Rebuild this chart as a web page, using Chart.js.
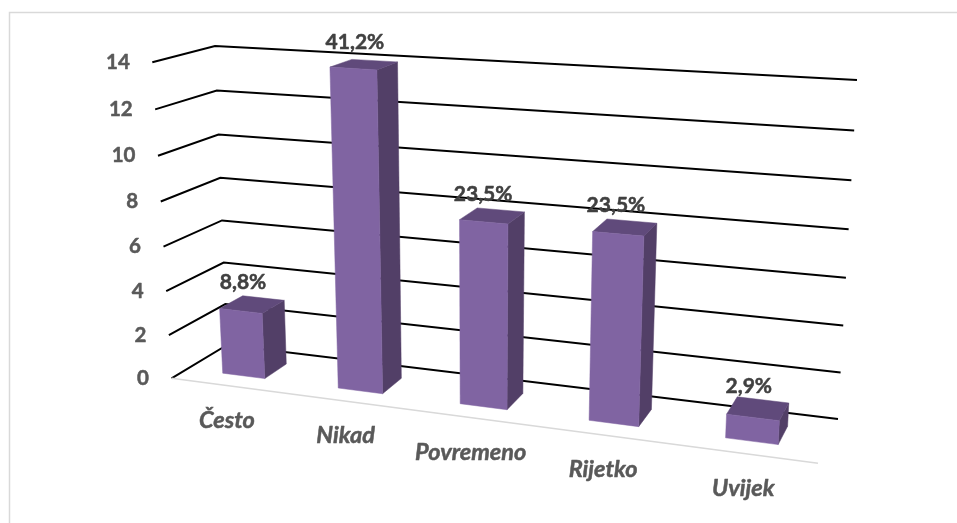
<!DOCTYPE html>
<html><head><meta charset="utf-8">
<style>html,body{margin:0;padding:0;background:#fff}#wrap{position:absolute;left:0;top:0;width:957px;height:523px}</style>
<script src="https://cdn.jsdelivr.net/npm/chart.js@4"></script>
</head><body><div id="wrap"><canvas id="c" width="957" height="523"></canvas></div>
<script>
const categories = ['Često', 'Nikad', 'Povremeno', 'Rijetko', 'Uvijek'];
const counts = [3, 14, 8, 8, 1];
const percentLabels = ['8,8%', '41,2%', '23,5%', '23,5%', '2,9%'];
const yTicks = [0, 2, 4, 6, 8, 10, 12, 14];

// Camera: where the eight corners of the 3D plot box land on the picture.
const box = {
  flb: [171.5, 378.3], flt: [152.3, 62.3], blb: [227, 345], blt: [215, 46],
  frb: [818, 463.3], frt: [838.5, 105], brb: [838, 419], brt: [857, 80]
};
const warp = (t, k) => t / (1 + k * (1 - t));
const depthFront = 0.29, depthBack = 0.71;

function lerp(a, b, t) { return [a[0] + (b[0] - a[0]) * t, a[1] + (b[1] - a[1]) * t]; }
function project(chart, px, d, py) {
  const ca = chart.chartArea;
  const u = warp((px - ca.left) / (ca.right - ca.left), 0.15);
  const t = warp((ca.bottom - py) / (ca.bottom - ca.top), 0.05);
  const fl = lerp(box.flb, box.flt, t), fr = lerp(box.frb, box.frt, t);
  const bl = lerp(box.blb, box.blt, t), br = lerp(box.brb, box.brt, t);
  return lerp(lerp(fl, fr, u), lerp(bl, br, u), d);
}
function poly(ctx, pts, fill) {
  ctx.beginPath();
  pts.forEach((p, i) => i ? ctx.lineTo(p[0], p[1]) : ctx.moveTo(p[0], p[1]));
  ctx.closePath();
  ctx.fillStyle = fill; ctx.fill();
  ctx.strokeStyle = fill; ctx.lineWidth = 0.5; ctx.stroke();
}
function boldText(ctx, s, x, y, color) {
  ctx.fillStyle = color; ctx.strokeStyle = color; ctx.lineWidth = 0.5; ctx.lineJoin = 'round';
  ctx.strokeText(s, x, y); ctx.fillText(s, x, y);
}

const scene3d = {
  id: 'scene3d',
  beforeDatasetsDraw(chart) {
    const ctx = chart.ctx, ca = chart.chartArea, ys = chart.scales.y, xs = chart.scales.x;
    ctx.save();
    // outer frame
    ctx.strokeStyle = '#d9d9d9'; ctx.lineWidth = 1.5;
    ctx.beginPath(); ctx.moveTo(9.5, 523); ctx.lineTo(9.5, 12.5); ctx.lineTo(957, 12.5); ctx.stroke();
    // gridlines on side and back walls
    ctx.strokeStyle = '#000'; ctx.lineWidth = 2;
    ys.ticks.forEach(tk => {
      const py = ys.getPixelForValue(tk.value);
      const a = project(chart, ca.left, 0, py), b = project(chart, ca.left, 1, py), c = project(chart, ca.right, 1, py);
      ctx.beginPath(); ctx.moveTo(a[0], a[1]); ctx.lineTo(b[0], b[1]); ctx.lineTo(c[0], c[1]); ctx.stroke();
    });
    // front floor edge
    const f0 = project(chart, ca.left, 0, ca.bottom), f1 = project(chart, ca.right, 0, ca.bottom);
    ctx.strokeStyle = '#d9d9d9'; ctx.lineWidth = 1.5;
    ctx.beginPath(); ctx.moveTo(f0[0], f0[1]); ctx.lineTo(f1[0], f1[1]); ctx.stroke();
    // value axis labels
    ctx.font = 'bold 20.5px Lato'; ctx.textAlign = 'right'; ctx.textBaseline = 'middle';
    ys.ticks.forEach(tk => {
      const p = project(chart, ca.left, 0, ys.getPixelForValue(tk.value));
      boldText(ctx, String(tk.value), p[0] - 22.5, p[1], '#595959');
    });
    // category labels
    ctx.font = 'italic bold 23.5px Lato'; ctx.textAlign = 'center';
    categories.forEach((name, i) => {
      const p = project(chart, xs.getPixelForValue(i), 0, ca.bottom);
      boldText(ctx, name, p[0] - 1.5, p[1] + 34.5, '#595959');
    });
    ctx.restore();
  },
  beforeDatasetDraw(chart, args) {
    const ctx = chart.ctx;
    ctx.save();
    args.meta.data.forEach((el, i) => {
      const L = el.x - el.width / 2, R = el.x + el.width / 2, T = el.y, B = el.base;
      const P = (x, d, y) => project(chart, x, d, y);
      poly(ctx, [P(R, depthFront, T), P(R, depthBack, T), P(R, depthBack, B), P(R, depthFront, B)], '#523f67');
      poly(ctx, [P(L, depthFront, T), P(R, depthFront, T), P(R, depthBack, T), P(L, depthBack, T)], '#604a7b');
      poly(ctx, [P(L, depthFront, T), P(R, depthFront, T), P(R, depthFront, B), P(L, depthFront, B)], '#8064a2');
      const c = P(el.x, 0.5, T);
      ctx.font = 'bold 21px Lato'; ctx.textAlign = 'center'; ctx.textBaseline = 'middle';
      boldText(ctx, percentLabels[i], c[0] - 9, c[1] - 22, '#404040');
    });
    ctx.restore();
    return false;
  }
};

new Chart(document.getElementById('c'), {
  type: 'bar',
  data: { labels: categories, datasets: [{ label: 'Broj', data: counts, backgroundColor: '#8064a2', barPercentage: 0.37, categoryPercentage: 1 }] },
  options: {
    responsive: false, animation: false,
    layout: { padding: { left: 152, top: 46, right: 100, bottom: 60 } },
    plugins: { legend: { display: false }, tooltip: { enabled: false }, title: { display: false } },
    scales: {
      x: { display: false, type: 'category' },
      y: { display: false, min: 0, max: 14, afterBuildTicks(s) { s.ticks = yTicks.map(value => ({ value })); } }
    }
  },
  plugins: [scene3d]
});
</script></body></html>
